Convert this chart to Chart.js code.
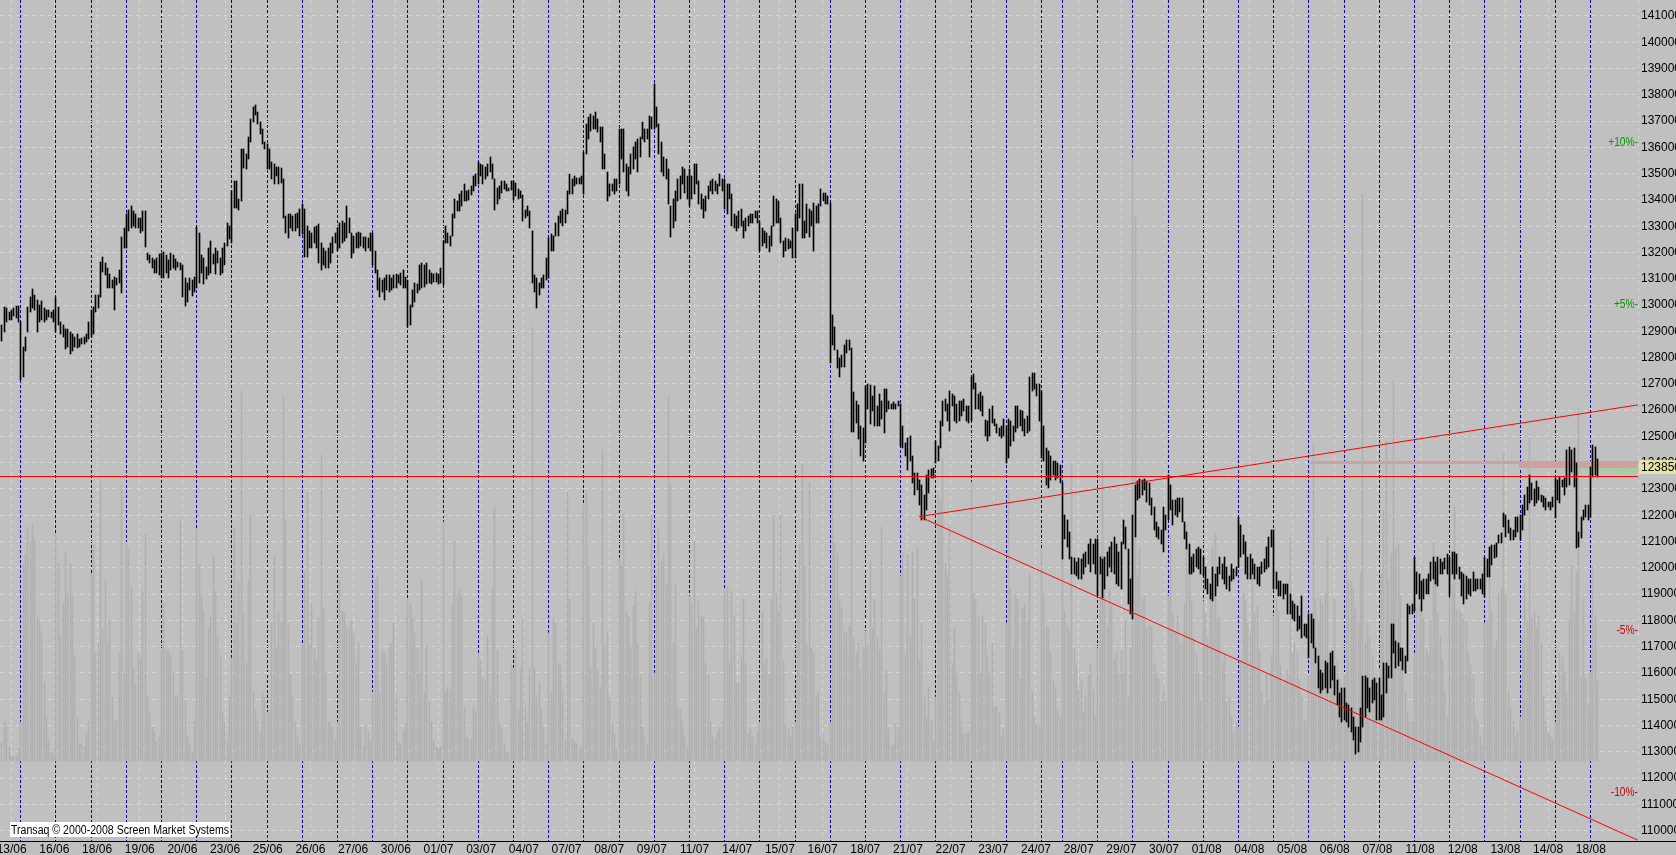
<!DOCTYPE html>
<html>
<head>
<meta charset="utf-8">
<script src="https://cdn.jsdelivr.net/npm/chart.js@4/dist/chart.umd.min.js"></script>
<style>
  html, body { margin: 0; padding: 0; background: #c0c0c0; overflow: hidden; }
  canvas { display: block; }
</style>
</head>
<body>
<canvas id="chart" width="1676" height="855"></canvas>
<script>
// 30-minute bars, one row per trading day (13/06 .. 18/08)
const highByDay = [
  [129250,129910,129870,129720,129800,129870,129950,129950], // 13/06
  [129350,128410,128780,129910,130290,130610,130380,130200,130010,130140,129870,129820,129820,129720,129820], // 16/06
  [130290,129910,129350,129250,129070,129070,128970,128880,128780,128880,128690,128750,128780,128880,129350], // 17/06
  [129820,129910,130380,130380,131640,131830,131600,131420,131190,130950,131080,131040,131320,132580,132920], // 18/06
  [133480,133630,133770,133580,133480,133300,133330,133580,133580,131980,131890,131790,131700,131790,131940], // 19/06
  [131980,132020,131890,131700,131980,131890,131750,131640,131600,131510,131040,130850,131040,130950,131080], // 20/06
  [132960,132730,131890,131790,131450,132170,132450,131940,132170,132070,131790,132170,132360,133110,133010], // 23/06
  [134330,134710,134710,134050,135930,135930,135740,136400,137060,137530,137620,137340,136960,136680,136210], // 24/06
  [136120,135930,135460,135360,135270,135270,135210,134800,133390,133480,133480,133390,133450,133520,133670], // 25/06
  [133860,133670,133010,132830,132730,132960,133010,133070,132360,132170,132070,132170,132360,132580,132730], // 26/06
  [132920,133110,133200,133110,133770,133300,132730,132640,132730,132770,132730,132580,132580,132540,132730], // 27/06
  [132730,132070,131320,131040,130950,131040,131130,131130,131040,131130,131190,131130,131230,131320,131080], // 30/06
  [130950,130010,130570,130850,130810,131510,131600,131510,131600,131320,131230,131190,131230,131190,131420], // 01/07
  [132450,133010,132730,132640,133480,134050,133960,134240,134330,134610,134330,134390,134520,134900,134990], // 02/07
  [135460,135360,135330,135270,135360,135650,135360,134800,134460,134520,134710,134710,134610,134460,134710], // 03/07
  [134710,134650,134420,134330,134200,133630,133770,133580,132830,131130,131040,130850,131040,131130,131790], // 04/07
  [132540,132700,132640,133110,133390,133580,133670,133630,134330,134990,134800,134900,134840,134840,134900], // 07/07
  [135830,136870,137150,137280,137210,137340,137060,136770,136770,135740,135080,134610,134610,134800,134800], // 08/07
  [136680,136680,136680,135360,135270,135740,136020,136210,136300,136400,136960,136680,136680,137210,137150], // 09/07
  [138410,137530,136870,136210,135650,135550,135180,133770,134050,134330,134800,134900,135270,135180,134900], // 10/07
  [135180,134900,135360,135360,134710,134240,134050,134140,134520,134710,134800,134710,134610,134990,134800], // 11/07
  [134800,134610,134610,134240,133480,133390,133580,133670,133200,133300,133390,133450,133480,133580,133580], // 14/07
  [133200,132920,132830,132730,132640,133010,134140,134050,133960,133300,132450,132540,132510,132450,132920], // 15/07
  [133480,133860,134610,134610,133200,133860,133670,133580,133900,133770,133860,134420,134270,134270,134140], // 16/07
  [133870,129620,129180,128290,127970,128100,128480,128670,128670,128350,126700,126340,126200,125400,125310], // 17/07
  [126900,126990,126940,126530,126900,126150,126620,126340,126810,126810,126340,126250,126300,126250,126340], // 18/07
  [126250,125400,124740,124930,125020,124270,123620,123620,123330,123140,122770,123520,123710,123750,123800], // 21/07
  [124840,124650,125590,126340,126430,126250,126720,126620,126530,126250,126340,126340,126430,126150,126150], // 22/07
  [127280,127370,127050,126620,126680,126530,125630,125590,126060,126150,125680,125490,125310,125400,125680], // 23/07
  [125400,125680,125590,125400,126150,126150,126000,125960,125680,125780,127280,127430,127410,126990,126990], // 24/07
  [126720,125400,124550,124460,124270,124080,124080,123990,123900], // 25/07
  [123240,122020,121830,121360,120420,120360,120230,120360,120320,120510,120610,120890,121080,120890,121080], // 28/07
  [121080,120420,120320,120420,120610,120790,120980,121170,120890,120610,120980,121830,121550,120700,119570], // 29/07
  [122020,123140,123290,123370,123330,123370,123290,123240,122670,122300,121740,121550,121450,122300,122020], // 30/07
  [123520,123140,122580,122580,122670,122670,122670,121740,121360,120890,120420,120510,120700,120790,120700], // 31/07
  [120420,120040,119570,119380,120040,119760,120040,120420,120140,120420,120040,119670,120140,119950,120040], // 01/08
  [121920,121640,121260,120980,120420,120510,120320,120140,120040,120040,120230,120320,120790,121170,121450], // 04/08
  [121450,119850,119480,119480,119380,119380,119380,119010,118730,118630,118540,118160,118910,117880,117880], // 05/08
  [118260,118260,118070,116940,116660,116100,116000,116470,116380,116750,116850,116280,115720,115250,115440], // 06/08
  [115440,114870,114780,114680,114310,113930,113930,114680,115900,115900,115810,115440,115720,115810,115620], // 07/08
  [115810,115150,116380,116380,116280,117880,117880,117220,117130,116940,116940,116660,118630,118540,118630], // 08/08
  [120420,119850,119760,119480,119570,119570,119760,120230,120420,120230,120420,120320,120230,120360,120510], // 11/08
  [120420,120610,120610,120510,120040,119850,119760,119670,119570,119570,119850,119570,119570,119570,119760], // 12/08
  [120430,120330,120810,120870,120870,120930,121250,121310,122080,122010,121820,121500,121440,121930,121950], // 13/08
  [122010,122390,122770,123070,123530,123240,122990,123320,123090,122770,122740,122650,122520,122520,122710], // 14/08
  [123410,123340,123470,123340,123410,124490,124610,124490,124550,124000,121380,121950,122200,122390,122390], // 15/08
  [123840,124680,124600,124150] // 18/08
];

const lowByDay = [
  [128630,128970,129350,129440,129440,129570,129500,129350],
  [127130,127280,128260,128970,129720,129870,129820,128970,129350,129440,129350,129440,129540,129500,129350],
  [128970,129250,128880,128780,128320,128410,128130,128260,128410,128370,128410,128500,128500,128600,128690],
  [128780,128880,129720,129870,130290,131270,131130,130660,130660,130660,129820,130760,130850,130440,132170],
  [132170,132830,132920,133020,132920,132920,132730,132830,132210,131700,131600,131420,131230,131230,131130],
  [131040,131040,131230,131040,131320,131420,131320,131450,131320,130290,129950,130100,130570,130330,130480],
  [130660,130850,131230,130810,131000,131130,131230,131570,131190,131600,131130,131230,131510,132260,132510],
  [132360,133710,133710,133630,133960,135210,135180,135550,136210,136960,137240,136870,136490,136120,135930],
  [135180,135180,134800,134610,134900,134610,134650,133300,132730,132540,132920,132830,132830,132920,132640],
  [132700,131830,131830,132170,132170,132360,132170,131600,131320,131510,131420,131420,131600,131980,132360],
  [132070,132170,132360,132450,132540,132730,131790,131980,132170,132170,132260,132170,132070,132170,132070],
  [131510,131230,130570,130290,130480,130200,130570,130480,130570,130660,130660,130850,130760,130660,130660],
  [129160,129250,129910,130100,130440,130570,130660,130700,130810,130850,130810,130890,130890,130810,130850],
  [130760,132360,132360,132260,132640,133300,133580,133580,133770,133960,133960,134010,134200,134330,134520],
  [134610,134900,134610,134800,134900,135080,134800,133630,133860,134050,134270,134420,134330,134330,134390],
  [134010,134140,134050,134080,133200,133300,133390,132920,130850,130480,129870,130380,130660,130660,130950],
  [131040,132070,132070,132640,132640,133110,133010,133110,133480,134240,134240,134520,134610,134610,134610],
  [134240,135740,136300,136640,136680,136680,136590,136210,135180,135180,133960,134140,134330,134240,134330],
  [134610,135550,135080,134330,134140,134990,135180,135550,135080,135650,136300,136210,136300,135650,136680],
  [136680,136770,135740,135080,134900,134800,133860,132580,132920,133200,133960,134050,134610,134270,134050],
  [133770,134050,134240,134610,133860,133670,133300,133580,134050,134330,134240,134330,134240,134520,134330],
  [133670,133480,134050,133010,132920,132830,132920,133010,132540,132830,133010,133110,133110,133300,133110],
  [132070,132260,132360,132170,132020,132260,133010,133110,133110,132360,131830,132070,132130,132170,131790],
  [131790,132830,133300,132540,132540,132730,132580,133010,132070,133110,133110,133770,133960,133860,133860],
  [127800,128480,128290,127590,127270,127650,127660,128160,128290,125170,125170,125500,124900,124270,124080],
  [124740,126060,125490,125960,125400,125400,125400,125680,125120,125930,126060,126060,126060,126060,126150],
  [124650,124550,124270,123710,124080,123240,122770,122960,122390,121830,121830,122200,122860,123430,123430],
  [123990,124080,124550,125400,125960,125590,125210,126150,125590,125500,125590,125780,125960,125590,125500],
  [125590,126810,126060,126060,125960,125780,125020,124840,125020,125500,125400,125120,125020,124930,125020],
  [123990,124180,124650,124840,125170,125310,125400,125210,125020,125120,125210,126720,126810,126530,125590],
  [124180,124080,123140,123050,123330,123520,123330,123430,123240],
  [120320,121080,120790,120320,119760,119760,119670,119570,119570,119760,120040,120140,119850,120140,119760],
  [118910,119760,118860,119200,119670,120040,119850,119760,119380,119290,119200,120890,120700,118630,118260],
  [118070,121170,122580,122670,122770,122960,122490,122390,122020,121450,121170,121080,120890,120610,121450],
  [121830,122200,121640,122020,121920,122110,121740,121080,120700,119760,119760,119850,120040,119950,119760],
  [119670,119200,119010,118820,118730,118910,119290,119760,119570,119380,119200,119100,119480,119570,119670],
  [120040,120420,120510,119760,119570,119570,119760,119570,119380,119290,119760,119850,119950,120040,120790],
  [119200,119200,118920,118920,118820,119010,118260,118260,118070,117970,117600,117690,117320,117410,117320],
  [116560,117130,116940,116380,115440,115250,115340,115440,115250,115440,115720,115150,114780,114310,114120],
  [114210,114120,113930,113740,113460,112900,112990,113370,113930,114310,114680,114500,114870,114960,114210],
  [114210,114210,114310,115250,115810,115810,116750,116190,116280,116470,116100,116000,116470,118260,118260],
  [118350,119010,118820,118350,118820,119010,119010,119480,119570,119380,119290,119760,119760,119950,119760],
  [118910,119760,119570,119760,119570,118910,118630,118820,119010,118910,119100,119100,119200,119200,119010],
  [118900,119660,119660,120110,120360,120430,120930,120960,121540,121180,121310,121060,121060,121180,121380],
  [121060,121440,122010,122200,122460,122580,122360,122460,122580,122520,122330,122200,122310,122200,122310],
  [121890,122580,122460,123070,122770,123070,123150,123660,123090,120760,120800,121120,121820,121950,121820],
  [121940,123460,123530,123460]
];

// volume per bar (contracts, tens)
const volumeByDay = [
  [38,78,68,28,10,10,10,23],
  [78,398,418,473,443,478,448,288,283,258,158,88,43,18,13],
  [458,398,253,318,423,338,398,338,213,88,33,33,28,53,78],
  [378,438,218,238,563,268,363,238,283,128,78,83,218,558,178],
  [443,428,353,188,153,218,208,343,458,128,98,68,58,38,48],
  [223,318,223,223,213,178,128,133,488,223,123,48,33,18,78],
  [468,398,338,303,168,268,288,413,343,253,213,98,78,38,128],
  [208,473,278,363,748,298,198,363,498,138,103,78,58,138,128],
  [98,103,278,413,228,303,283,738,488,278,173,128,78,48,33],
  [233,383,543,238,318,228,203,288,618,308,178,78,78,68,43],
  [78,363,303,298,273,268,283,258,198,238,68,28,68,58,38],
  [138,368,373,138,223,218,198,228,238,278,133,38,33,58,73],
  [328,318,288,258,228,178,363,138,233,118,78,38,28,23,28],
  [483,138,148,143,313,443,338,348,333,108,48,43,43,108,98],
  [218,203,168,163,253,133,348,513,223,73,68,33,20,16,193],
  [188,228,103,188,288,108,78,188,878,188,133,158,103,68,33],
  [258,138,288,278,198,193,143,43,543,328,43,38,33,23,28],
  [518,548,393,188,278,228,183,148,628,233,258,128,73,53,23],
  [408,393,498,303,293,228,313,343,238,173,68,48,33,318,498],
  [178,373,468,403,418,358,738,558,238,358,108,103,78,48,28],
  [333,318,443,268,323,293,288,198,173,78,48,43,58,68,78],
  [348,353,198,343,293,158,158,208,328,198,53,63,48,33,58],
  [78,303,193,208,173,328,498,338,303,498,203,73,63,48,68],
  [78,358,438,603,393,233,563,228,218,133,138,48,53,38,33],
  [78,693,443,418,328,308,263,258,273,633,248,218,238,183,228],
  [263,233,403,268,328,248,223,473,138,183,63,28,33,73,63],
  [373,418,213,418,253,423,328,433,203,278,128,88,148,83,38],
  [128,538,528,613,398,378,473,198,268,178,138,78,53,53,58],
  [563,338,328,288,178,293,278,213,178,238,108,108,98,48,63],
  [278,548,348,228,338,328,168,308,318,283,378,138,88,73,68],
  [428,338,273,268,218,163,148,103,88],
  [428,303,273,263,598,228,193,143,163,98,133,173,198,143,88],
  [228,418,608,378,273,348,313,203,218,173,223,178,283,128,228],
  [1218,1103,373,433,328,333,268,273,273,198,178,168,118,148,118],
  [333,458,298,258,293,238,233,318,478,398,323,248,218,178,123],
  [323,298,248,338,433,458,288,288,198,218,118,128,88,58,78],
  [68,203,338,323,278,258,378,298,313,223,138,113,178,123,213],
  [293,328,303,193,153,163,183,453,218,238,218,163,128,83,78],
  [173,268,638,328,283,328,318,338,453,213,208,328,203,168,138],
  [173,428,368,363,348,308,278,378,1148,238,278,248,213,163,178],
  [183,378,508,648,368,418,768,428,438,333,213,138,98,78,78],
  [218,308,313,303,288,223,213,283,443,378,298,253,203,138,88],
  [328,358,513,303,303,298,288,283,218,193,173,88,78,48,28],
  [278,283,373,303,228,243,338,348,623,338,138,108,78,48,58],
  [88,248,358,283,653,288,298,268,293,238,128,78,58,48,43],
  [78,138,218,210,180,137,285,396,301,380,715,170,328,168,113],
  [180,392,295,160]
];

const tickLabels = ['13/06','16/06','18/06','19/06','20/06','23/06','25/06','26/06','27/06','30/06',
  '01/07','03/07','04/07','07/07','08/07','09/07','11/07','14/07','15/07','16/07',
  '18/07','21/07','22/07','23/07','24/07','28/07','29/07','30/07','01/08','04/08',
  '05/08','06/08','07/08','11/08','12/08','13/08','14/08','18/08'];

const lastPrice = 123850;
const levelPrice = 123475;
const basePrice = 123810;
const percentLevels = [10, 5, -5, -10];
const trendUp = [{x: 391, y: 121950}, {x: 697.3, y: 126200}];
const trendDown = [{x: 391, y: 121950}, {x: 697.3, y: 109630}];
// order book: [first bar, low, high]
const askBands = [[557.6, 123960, 124070], [646.7, 123800, 124070]];
const bidBands = [[669.2, 123670, 123800], [688.3, 123590, 123800]];

// view window
const xMin = -0.852, xMax = 697.27;
const yMin = 109605, yMax = 141607;
const priceStep = 1000;
const labelFirst = 4.13, labelEvery = 18.19;

const priceBars = [];
const volumeBars = [];
const dayStarts = [];
highByDay.forEach((dayHighs, d) => {
  dayStarts.push(priceBars.length);
  dayHighs.forEach((hi, j) => {
    const i = priceBars.length;
    priceBars.push({x: i, y: [lowByDay[d][j], hi]});
    volumeBars.push({x: i, y: volumeByDay[d][j]});
  });
});

const FONT = '"Liberation Sans", Arial, sans-serif';
Chart.defaults.font.family = FONT;
Chart.defaults.font.size = 12;
Chart.defaults.color = '#000';

const overlay = {
  id: 'overlay',
  beforeDatasetsDraw(chart) {
    const {ctx, chartArea: a, scales: {x, y}} = chart;
    ctx.save();
    const band = (b, color) => {
      const x0 = Math.round(x.getPixelForValue(b[0]));
      const top = Math.round(y.getPixelForValue(b[2]));
      const bot = Math.round(y.getPixelForValue(b[1]));
      ctx.fillStyle = color;
      ctx.fillRect(x0, top, a.right - x0, bot - top);
    };
    askBands.forEach(b => band(b, '#d0a0a0'));
    bidBands.forEach(b => band(b, '#a0d0a0'));
    ctx.restore();
  },
  beforeDatasetDraw(chart, args) {
    // keep thin bars on whole pixels
    if (args.meta.type !== 'bar') return;
    args.meta.data.forEach(el => {
      const w = el.width;
      el.x = Math.round(el.x - w / 2) + w / 2;
      el.y = Math.round(el.y);
      el.base = Math.round(el.base);
    });
  },
  afterDraw(chart) {
    const {ctx, chartArea: a, scales: {y}} = chart;
    ctx.save();
    // right edge of plot
    ctx.strokeStyle = '#d6d6d6';
    ctx.setLineDash([4, 4]);
    ctx.beginPath();
    ctx.moveTo(a.right + 0.5, 0);
    ctx.lineTo(a.right + 0.5, a.bottom);
    ctx.stroke();
    ctx.setLineDash([]);

    ctx.font = '12px ' + FONT;
    ctx.textBaseline = 'middle';
    ctx.textAlign = 'right';
    percentLevels.forEach(p => {
      const py = y.getPixelForValue(basePrice * (1 + p / 100));
      const txt = (p > 0 ? '+' : '') + p + '%-';
      ctx.fillStyle = p > 0 ? '#009a00' : '#d00000';
      ctx.fillText(txt, a.right, py, ctx.measureText(txt).width * 0.85);
    });

    const ly = Math.round(y.getPixelForValue(lastPrice));
    ctx.fillStyle = '#e4e4a2';
    ctx.fillRect(a.right + 1, ly - 7, chart.width - a.right - 1, 14);
    ctx.fillStyle = '#000';
    ctx.textAlign = 'left';
    ctx.fillText(String(lastPrice), a.right + 3, ly + 1);

    ctx.fillRect(0, a.bottom, chart.width, 1);

    ctx.fillStyle = '#fff';
    ctx.fillRect(10, a.bottom - 19, 220, 15);
    ctx.fillStyle = '#000';
    ctx.textBaseline = 'alphabetic';
    ctx.fillText('Transaq \u00a9 2000-2008 Screen Market Systems', 11, a.bottom - 7, 218);
    ctx.restore();
  }
};

// lower order is drawn on top
const lineStyle = {type: 'line', order: 0, xAxisID: 'x', yAxisID: 'y', borderColor: '#ff0000', borderWidth: 1,
  pointRadius: 0, fill: false, tension: 0};

new Chart(document.getElementById('chart'), {
  type: 'bar',
  data: {
    datasets: [
      {data: volumeBars, order: 2, xAxisID: 'x', yAxisID: 'yv', backgroundColor: '#b0b0b0', barThickness: 1, grouped: false, borderWidth: 0},
      {data: priceBars, order: 1, xAxisID: 'x', yAxisID: 'y', backgroundColor: '#000000', barThickness: 1, grouped: false, borderWidth: 0},
      Object.assign({data: [{x: xMin, y: levelPrice}, {x: xMax, y: levelPrice}]}, lineStyle),
      Object.assign({data: trendUp}, lineStyle),
      Object.assign({data: trendDown}, lineStyle)
    ]
  },
  options: {
    responsive: false,
    animation: false,
    devicePixelRatio: 1,
    events: [],
    layout: {padding: 0},
    plugins: {legend: {display: false}, tooltip: {enabled: false}},
    scales: {
      x: {
        type: 'linear', axis: 'x', position: 'bottom', min: xMin, max: xMax, offset: false,
        afterBuildTicks: s => { s.ticks = tickLabels.map((_, k) => ({value: labelFirst + k * labelEvery})); },
        afterFit: s => { s.height = 14; s.paddingLeft = 0; s.paddingRight = 0; },
        ticks: {autoSkip: false, maxRotation: 0, padding: 1, callback: (v, i) => tickLabels[i]},
        grid: {color: '#d6d6d6', drawTicks: false, offset: false},
        border: {display: false, dash: [4, 4]}
      },
      x2: {
        type: 'linear', axis: 'x', position: 'bottom', min: xMin, max: xMax, offset: false,
        afterBuildTicks: s => { s.ticks = dayStarts.slice(1).map(v => ({value: v})); },
        afterFit: s => { s.height = 0; s.paddingLeft = 0; s.paddingRight = 0; },
        ticks: {display: false},
        grid: {color: '#0000aa', drawTicks: false, offset: false},
        border: {display: false, dash: [3, 2]}
      },
      y: {
        type: 'linear', position: 'right', min: yMin, max: yMax,
        afterBuildTicks: s => {
          const t = [];
          for (let v = Math.ceil(yMin / priceStep) * priceStep; v <= yMax; v += priceStep) t.push({value: v});
          s.ticks = t;
        },
        afterFit: s => { s.width = 38; s.paddingTop = 0; s.paddingBottom = 0; },
        ticks: {autoSkip: false, padding: 3, callback: v => String(v)},
        grid: {color: '#d6d6d6', drawTicks: false},
        border: {display: false, dash: [4, 4]}
      },
      yv: {type: 'linear', display: false, min: -163, max: 1540}
    }
  },
  plugins: [overlay]
});
</script>
</body>
</html>
